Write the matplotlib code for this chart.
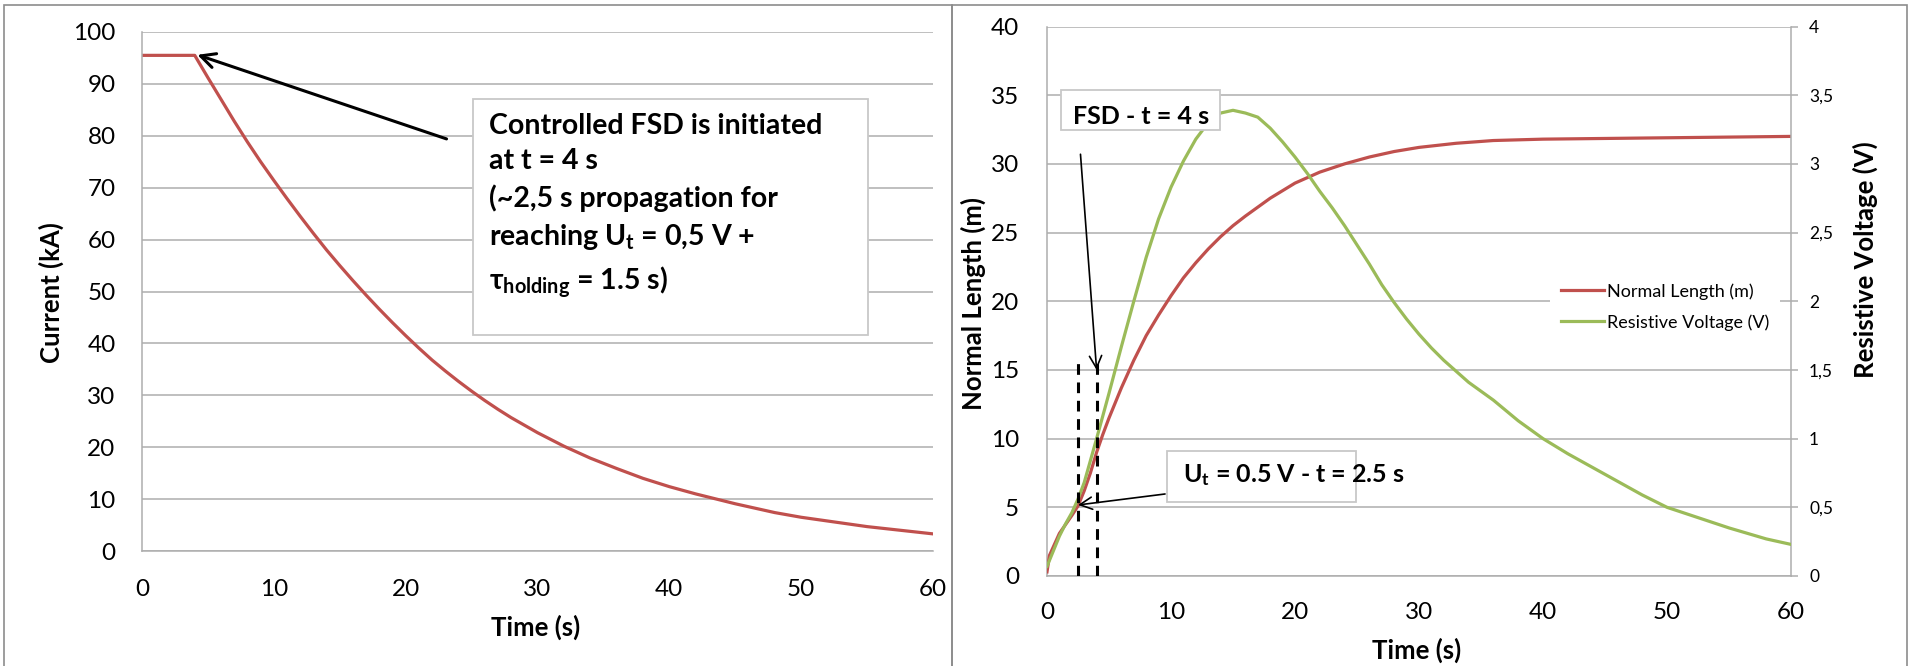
import matplotlib
matplotlib.use("Agg")
import matplotlib.pyplot as plt
from matplotlib.patches import Rectangle
from matplotlib.lines import Line2D

plt.rcParams['font.family'] = ['Lato', 'DejaVu Sans']
plt.rcParams['mathtext.default'] = 'regular'
plt.rcParams['mathtext.fallback'] = 'stixsans'

# current decay after the controlled FSD (left plot)
t_current = [0, 4, 5, 6, 7, 8, 9, 10, 11, 12, 13, 14, 15, 16, 17, 18, 19, 20, 21, 22,
             23, 24, 25, 26, 27, 28, 30, 32, 34, 36, 38, 40, 42, 45, 48, 50, 55, 60]
current_ka = [95.5, 95.5, 91.2, 87.0, 82.8, 78.8, 75.0, 71.4, 67.9, 64.5, 61.2, 58.0,
              55.0, 52.1, 49.3, 46.6, 44.0, 41.5, 39.1, 36.8, 34.7, 32.7, 30.8, 29.0,
              27.3, 25.7, 22.8, 20.2, 17.9, 15.9, 14.0, 12.4, 11.0, 9.1, 7.4, 6.5, 4.7, 3.3]

# normal zone length (right plot, left axis)
t_length = [0, 0.2, 1, 2, 2.5, 3, 3.5, 4, 4.5, 5, 6, 7, 8, 9, 10, 11, 12, 13, 14, 15,
            16, 18, 20, 22, 24, 26, 28, 30, 33, 36, 40, 50, 60]
normal_length = [0.3, 1.5, 3.1, 4.4, 5.1, 6.2, 7.5, 9.0, 10.3, 11.5, 13.7, 15.7, 17.5,
                 19.0, 20.4, 21.7, 22.8, 23.8, 24.7, 25.5, 26.2, 27.5, 28.6, 29.4, 30.0,
                 30.5, 30.9, 31.2, 31.5, 31.7, 31.8, 31.9, 32.0]

# resistive voltage (right plot, right axis)
t_voltage = [0, 0.5, 1, 1.5, 2, 2.5, 3, 3.5, 4, 5, 6, 7, 8, 9, 10, 11, 12, 13, 14, 15,
             16, 17, 18, 19, 20, 21, 22, 23, 24, 25, 26, 27, 28, 29, 30, 31, 32, 34, 36,
             38, 40, 42, 44, 46, 48, 50, 52, 55, 58, 60]
res_voltage = [0.07, 0.18, 0.29, 0.38, 0.46, 0.56, 0.68, 0.84, 1.0, 1.33, 1.67, 2.0,
               2.32, 2.6, 2.83, 3.02, 3.18, 3.3, 3.37, 3.39, 3.37, 3.34, 3.26, 3.16,
               3.05, 2.93, 2.80, 2.68, 2.55, 2.41, 2.27, 2.12, 1.99, 1.87, 1.76, 1.66,
               1.57, 1.41, 1.28, 1.13, 1.0, 0.89, 0.79, 0.69, 0.59, 0.5, 0.44, 0.35,
               0.27, 0.23]

t_fsd = 4.0
t_threshold = 2.5

x_ticks = [0, 10, 20, 30, 40, 50, 60]
current_ticks = list(range(0, 101, 10))
length_ticks = list(range(0, 41, 5))
voltage_ticks = [0, 0.5, 1, 1.5, 2, 2.5, 3, 3.5, 4]
voltage_labels = ['0', '0,5', '1', '1,5', '2', '2,5', '3', '3,5', '4']

RED = '#C0504D'
GREEN = '#9BBB59'
GRID = '#ADADAD'
FRAME = '#8C8C8C'
W, H = 1910, 666


def px_rect(x0, y0, x1, y1):
    # pixel box (top-left origin) -> figure fraction rect
    return [x0 / W, 1 - y1 / H, (x1 - x0) / W, (y1 - y0) / H]


fig = plt.figure(figsize=(W / 100, H / 100), dpi=100)

# panel frames
for x0, x1 in [(4, 952), (952, 1907)]:
    fig.add_artist(Rectangle((x0 / W, -0.05), (x1 - x0) / W, 1.05 - 5 / H,
                             transform=fig.transFigure, fill=False,
                             edgecolor=FRAME, linewidth=1.2))


def style_axis(ax):
    ax.grid(axis='y', color=GRID, linewidth=1.1)
    ax.set_axisbelow(True)
    for side in ['top', 'right']:
        ax.spines[side].set_visible(False)
    for side in ['left', 'bottom']:
        ax.spines[side].set_color(GRID)
        ax.spines[side].set_linewidth(1.1)
    ax.tick_params(axis='both', length=0, labelsize=17.5)


# ---- left plot: current ----
ax1 = fig.add_axes(px_rect(142, 32, 933, 551))
ax1.plot(t_current, current_ka, color=RED, linewidth=2.3)
ax1.set_xlim(0, 60)
ax1.set_ylim(0, 100)
ax1.set_xticks(x_ticks)
ax1.set_yticks(current_ticks)
style_axis(ax1)
ax1.tick_params(axis='y', pad=19)
ax1.tick_params(axis='x', pad=20)
ax1.text(-0.114, 0.497, 'Current (kA)', transform=ax1.transAxes, rotation=90,
         ha='center', va='center', fontsize=18.5, fontweight='bold')
ax1.text(0.498, -0.148, 'Time (s)', transform=ax1.transAxes,
         ha='center', va='center', fontsize=18.5, fontweight='bold')

ax1.add_patch(Rectangle((25.1, 41.6), 30.0, 45.5, facecolor='white',
                        edgecolor='#C8C8C8', linewidth=1.3, zorder=4))
ax1.text(26.3, 66.4,
         'Controlled FSD is initiated\nat t = 4 s\n(~2,5 s propagation for\n'
         'reaching U$_t$ = 0,5 V +\nτ$_{holding}$ = 1.5 s)',
         fontsize=20.5, fontweight='bold', ha='left', va='center',
         linespacing=1.45, zorder=5)
ax1.annotate('', xy=(t_fsd + 0.2, 95.6), xytext=(23.1, 79.4),
             arrowprops=dict(arrowstyle='->', color='black', lw=2.2,
                             mutation_scale=26, shrinkA=0, shrinkB=0), zorder=6)

# ---- right plot: normal length and resistive voltage ----
ax2 = fig.add_axes(px_rect(1047, 26.5, 1791, 576))
ax3 = ax2.twinx()
ax2.plot(t_length, normal_length, color=RED, linewidth=2.3, zorder=3)
ax3.plot(t_voltage, res_voltage, color=GREEN, linewidth=2.3, zorder=3)
ax2.set_xlim(0, 60)
ax2.set_ylim(0, 40)
ax3.set_ylim(0, 4)
ax2.set_xticks(x_ticks)
ax2.set_yticks(length_ticks)
ax3.set_yticks(voltage_ticks)
ax3.set_yticklabels(voltage_labels)
style_axis(ax2)
ax2.tick_params(axis='y', pad=20)
ax2.tick_params(axis='x', pad=19)
for side in ['top', 'left', 'bottom']:
    ax3.spines[side].set_visible(False)
ax3.spines['right'].set_color(GRID)
ax3.spines['right'].set_linewidth(1.1)
ax3.tick_params(axis='y', direction='out', length=5, width=1.1, color=GRID,
                labelsize=12.5, pad=8)

ax2.text(-0.0995, 0.495, 'Normal Length (m)', transform=ax2.transAxes, rotation=90,
         ha='center', va='center', fontsize=18.5, fontweight='bold')
ax2.text(1.0995, 0.575, 'Resistive Voltage (V)', transform=ax2.transAxes, rotation=90,
         ha='center', va='center', fontsize=18.5, fontweight='bold')
ax2.text(0.497, -0.135, 'Time (s)', transform=ax2.transAxes,
         ha='center', va='center', fontsize=18.5, fontweight='bold')

# threshold and FSD markers
for t_mark in [t_threshold, t_fsd]:
    ax3.plot([t_mark, t_mark], [0, 1.56], color='black', linewidth=2.2,
             dashes=(3.5, 2.5), zorder=4)

ax3.add_patch(Rectangle((1.13, 3.25), 12.82, 0.29, facecolor='white',
                        edgecolor='#C8C8C8', linewidth=1.3, zorder=5))
ax3.text(7.6, 3.345, 'FSD - t = 4 s', fontsize=18, fontweight='bold',
         ha='center', va='center', zorder=6)
ax3.annotate('', xy=(t_fsd, 1.5), xytext=(2.7, 3.07),
             arrowprops=dict(arrowstyle='->', color='black', lw=1.2,
                             mutation_scale=22, shrinkA=0, shrinkB=0), zorder=6)

ax3.add_patch(Rectangle((9.68, 0.539), 15.22, 0.371, facecolor='white',
                        edgecolor='#C8C8C8', linewidth=1.3, zorder=5))
ax3.text(11.0, 0.735, 'U$_t$ = 0.5 V - t = 2.5 s', fontsize=18, fontweight='bold',
         ha='left', va='center', zorder=6)
ax3.annotate('', xy=(t_threshold, 0.517), xytext=(9.52, 0.597),
             arrowprops=dict(arrowstyle='->', color='black', lw=1.2,
                             mutation_scale=22, shrinkA=0, shrinkB=0), zorder=6)

handles = [Line2D([], [], color=RED, linewidth=2.3),
           Line2D([], [], color=GREEN, linewidth=2.3)]
leg = ax3.legend(handles, ['Normal Length (m)', 'Resistive Voltage (V)'],
                 loc='center left', bbox_to_anchor=(0.676, 0.49), fontsize=13,
                 frameon=True, facecolor='white', edgecolor='none', framealpha=1,
                 fancybox=False, handlelength=2.4, handletextpad=0.15,
                 labelspacing=0.8, borderpad=0.6, borderaxespad=0)
leg.set_zorder(7)

fig.savefig('out.png', dpi=100)
